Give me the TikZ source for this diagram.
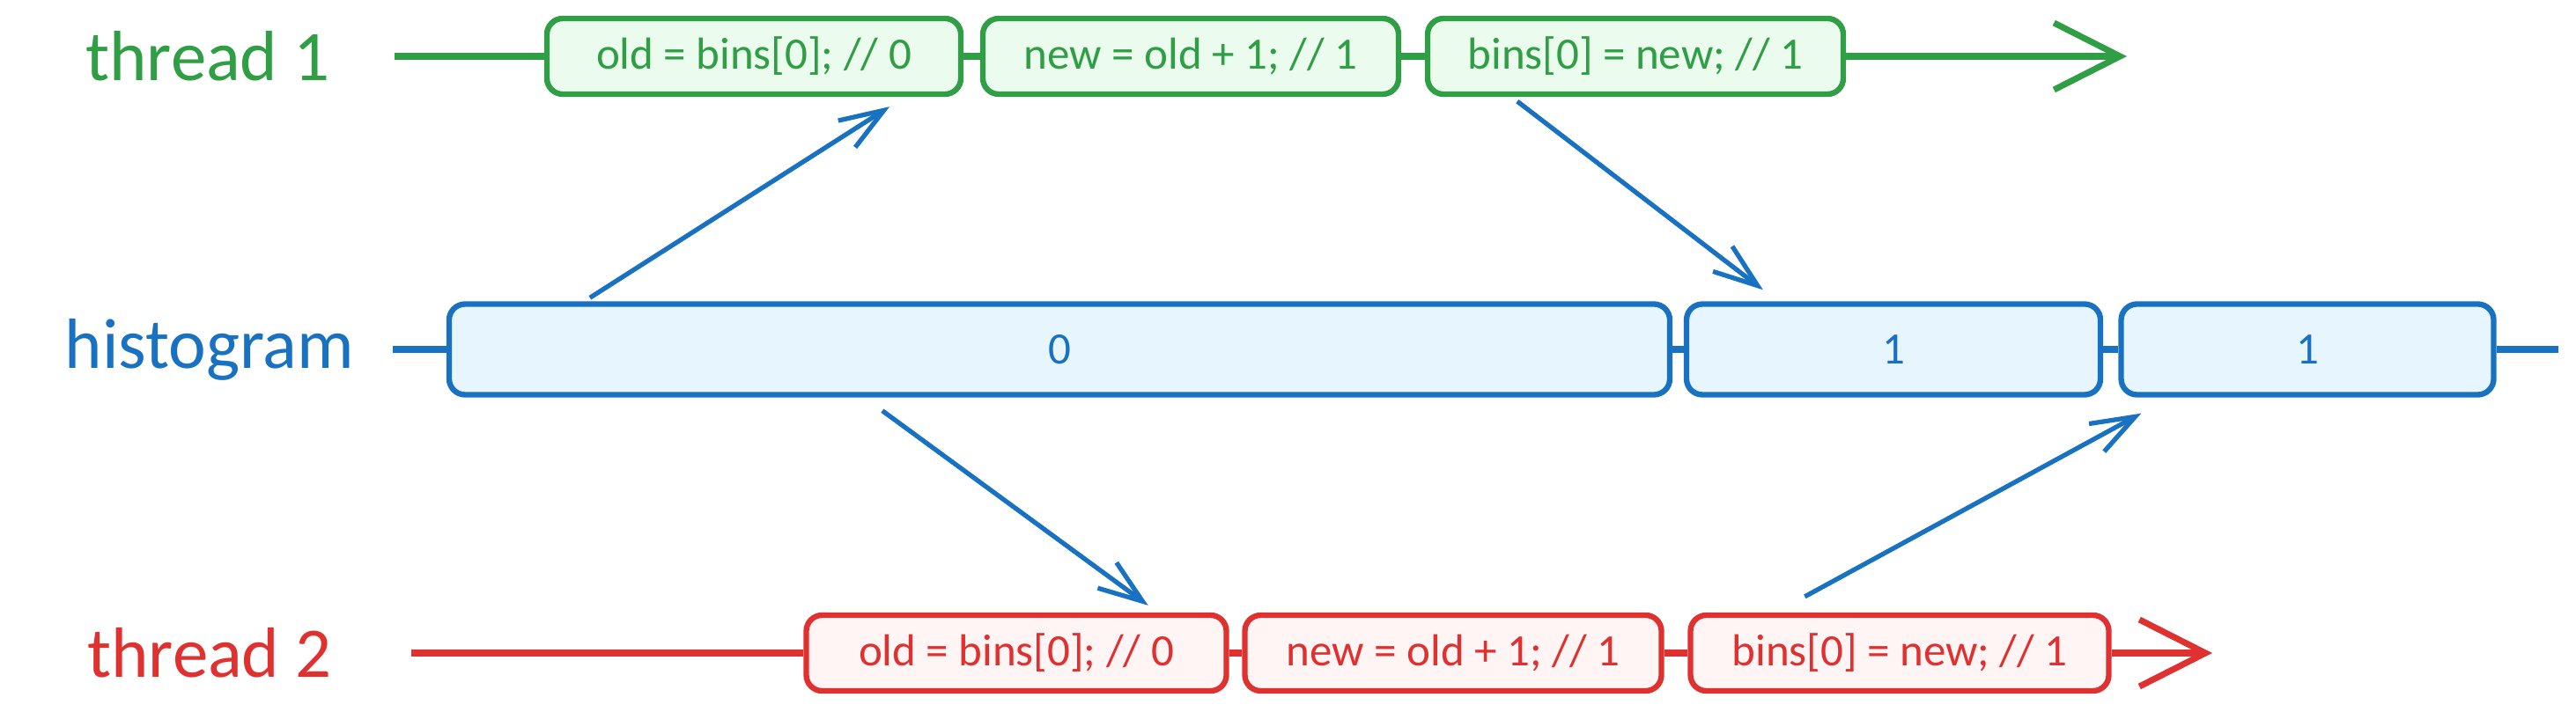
\documentclass[tikz,border=0pt]{standalone}
\usepackage{fontspec}
\setmainfont{Carlito}
\usetikzlibrary{arrows.meta}

\definecolor{tgreen}{HTML}{2F9E44}
\definecolor{tgreenfill}{HTML}{EBFBEE}
\definecolor{hblue}{HTML}{1971C2}
\definecolor{hbluefill}{HTML}{E7F5FF}
\definecolor{tred}{HTML}{E03131}
\definecolor{tredfill}{HTML}{FFF5F5}

\begin{document}
\begin{tikzpicture}[every node/.style={font=\fontsize{14.5}{17}\selectfont},
                    rowlabel/.style={font=\fontsize{23}{28}\selectfont},
                    cell/.style={rounded corners=0.18cm, line width=1.8pt, minimum height=0.86cm, inner sep=0pt},
                    greencell/.style={cell, draw=tgreen, fill=tgreenfill, text=tgreen},
                    bluecell/.style={cell, draw=hblue, fill=hbluefill, text=hblue, minimum height=1.03cm},
                    redcell/.style={cell, draw=tred, fill=tredfill, text=tred},
                    timeline/.style={line width=2pt},
                    timearrow/.style={timeline, -{Straight Barb[length=0.75cm, width=0.76cm]}},
                    link/.style={draw=hblue, line width=1.5pt, -{Straight Barb[length=0.5cm, width=0.36cm]}}]
                    \useasboundingbox (0,0) rectangle (29.25,-8.09);

                    \node[rowlabel, text=tgreen] (t1label) at (2.36,-0.64) {thread 1};
                    \node[rowlabel, text=hblue] (hlabel) at (2.38,-3.97) {histogram};
                    \node[rowlabel, text=tred] (t2label) at (2.38,-7.42) {thread 2};

                    \coordinate (t1start) at (4.48,-0.64);
                    \coordinate (t1end) at (24.15,-0.64);
                    \node[greencell, minimum width=4.70cm] (t1a) at (8.56,-0.64) {old = bins[0]; // 0};
                    \node[greencell, minimum width=4.72cm] (t1b) at (13.52,-0.64) {new = old + 1; // 1};
                    \node[greencell, minimum width=4.72cm] (t1c) at (18.57,-0.64) {bins[0] = new; // 1};

                    \coordinate (hstart) at (4.46,-3.97);
                    \coordinate (hend) at (29.05,-3.97);
                    \node[bluecell, minimum width=13.86cm] (h0) at (12.03,-3.97) {0};
                    \node[bluecell, minimum width=4.70cm] (h1) at (21.50,-3.97) {1};
                    \node[bluecell, minimum width=4.23cm] (h2) at (26.20,-3.97) {1};

                    \coordinate (t2start) at (4.67,-7.42);
                    \coordinate (t2end) at (25.12,-7.42);
                    \node[redcell, minimum width=4.77cm] (t2a) at (11.54,-7.42) {old = bins[0]; // 0};
                    \node[redcell, minimum width=4.73cm] (t2b) at (16.50,-7.42) {new = old + 1; // 1};
                    \node[redcell, minimum width=4.75cm] (t2c) at (21.57,-7.42) {bins[0] = new; // 1};

                    \draw[timeline, tgreen] (t1start) -- (t1a);
                    \draw[timeline, tgreen] (t1a) -- (t1b);
                    \draw[timeline, tgreen] (t1b) -- (t1c);
                    \draw[timearrow, tgreen] (t1c) -- (t1end);

                    \draw[timeline, hblue] (hstart) -- (h0);
                    \draw[timeline, hblue] (h0) -- (h1);
                    \draw[timeline, hblue] (h1) -- (h2);
                    \draw[timeline, hblue] (h2) -- (hend);

                    \draw[timeline, tred] (t2start) -- (t2a);
                    \draw[timeline, tred] (t2a) -- (t2b);
                    \draw[timeline, tred] (t2b) -- (t2c);
                    \draw[timearrow, tred] (t2c) -- (t2end);

                    \draw[link] ([xshift=1.63cm, yshift=0.04cm]h0.north west) -- ([xshift=-0.84cm, yshift=-0.11cm]t1a.south east);
                    \draw[link] ([xshift=1.05cm, yshift=-0.05cm]t1c.south west) -- ([xshift=0.90cm, yshift=0.13cm]h1.north west);
                    \draw[link] ([xshift=4.95cm, yshift=-0.15cm]h0.south west) -- ([xshift=-0.92cm, yshift=0.08cm]t2a.north east);
                    \draw[link] ([xshift=1.33cm, yshift=0.18cm]t2c.north west) -- ([xshift=0.26cm, yshift=-0.18cm]h2.south west);
                \end{tikzpicture}
\end{document}
